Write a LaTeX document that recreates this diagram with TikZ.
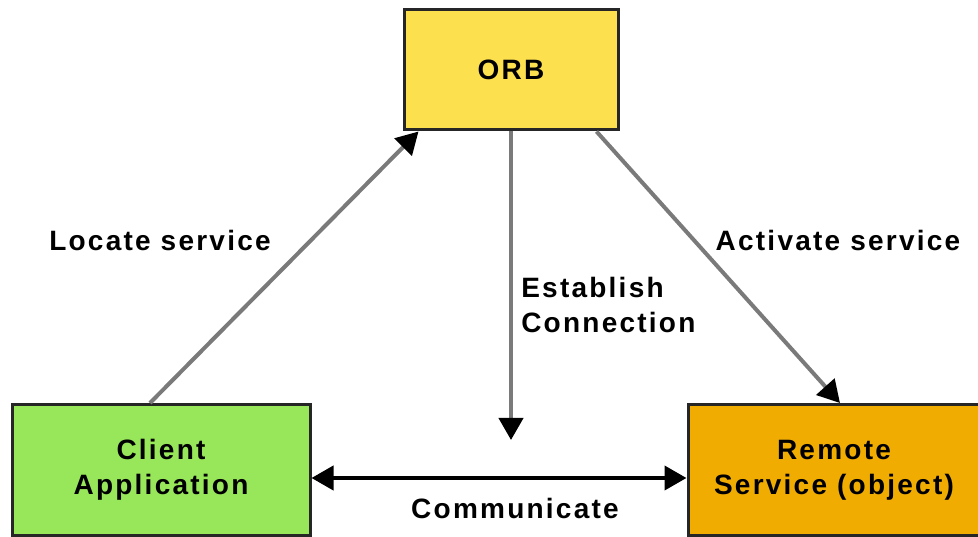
\documentclass[tikz,border=0pt]{standalone}
\usepackage{fontspec}
\setmainfont{Liberation Sans}[LetterSpace=8]
\usetikzlibrary{arrows.meta}
\definecolor{orbyellow}{HTML}{FDE04E}
\definecolor{clientgreen}{HTML}{98E65A}
\definecolor{remoteorange}{HTML}{F0AC00}
\definecolor{linegray}{HTML}{7A7A7A}
\tikzset{every path/.style={semithick}}
\tikzset{
  box/.style={draw=black!85, line width=3pt, align=center, inner sep=0pt,
    font=\fontsize{28}{35}\selectfont\bfseries},
  lbl/.style={font=\fontsize{28}{35}\selectfont\bfseries, align=left, inner sep=0pt},
  link/.style={draw=linegray, line width=4pt, -{Triangle[length=22pt,width=24pt,color=black]}},
  talk/.style={draw=black, line width=4pt, {Triangle[length=22pt,width=24pt]}-{Triangle[length=22pt,width=24pt]}}
}

\begin{document}
\begin{tikzpicture}[x=1pt,y=1pt]
    \useasboundingbox (0,0) rectangle (978,536);

    \node (orb) [box, fill=orbyellow, minimum width=214pt, minimum height=120pt] at (511,466) {ORB};
    \node (client) [box, fill=clientgreen, minimum width=298pt, minimum height=131pt] at (161,66) {Client\\Application};
    \node (remote) [box, fill=remoteorange, minimum width=292pt, minimum height=131pt] at (834,66) {Remote\\Service (object)};

    \coordinate (est) at (511,96);

    \draw[link] ([xshift=-11pt]client.north) -- ([xshift=16pt]orb.south west);
    \draw[link] (orb.south) -- (est);
    \draw[link] ([xshift=-23pt]orb.south east) -- ([xshift=6pt]remote.north);
    \draw[talk] ([yshift=-8pt]client.east) -- ([yshift=-8pt]remote.west);

    \node (locate) [lbl] at (160,296) {Locate service};
    \node (activate) [lbl] at (838,296) {Activate service};
    \node (establish) [lbl, anchor=west] at (521,231) {Establish\\Connection};
    \node (communicate) [lbl] at (515,28) {Communicate};
\end{tikzpicture}
\end{document}
